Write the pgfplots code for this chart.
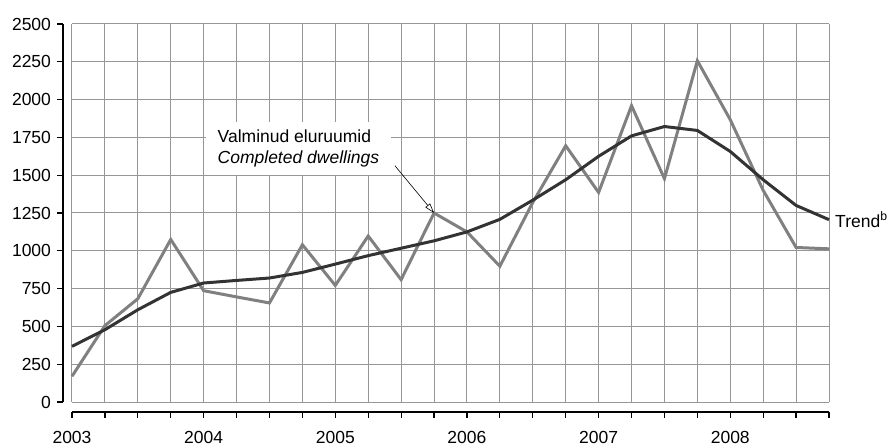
\documentclass[border=0pt]{standalone}
\usepackage{fontspec}
\setmainfont{Liberation Sans}
\usepackage{pgfplots}
\pgfplotsset{compat=1.18}
\usetikzlibrary{arrows.meta}
\definecolor{gridc}{RGB}{150,150,150}
\definecolor{actc}{RGB}{128,128,128}
\definecolor{trendc}{RGB}{51,51,51}
\begin{document}
\fontsize{17.5bp}{21bp}\selectfont
\begin{tikzpicture}[font=\fontsize{17.5bp}{21bp}\selectfont]
\begin{axis}[
 at={(0,0)}, anchor=south west,
 scale only axis, width=757bp, height=378bp,
 xmin=0, xmax=23, ymin=0, ymax=2500,
 axis x line*=bottom, axis y line*=left,
 axis x line shift=10bp, axis y line shift=9bp,
 axis line style={-, line width=2bp, black},
 xtick={0,...,23},
 xticklabels={2003,,,,2004,,,,2005,,,,2006,,,,2007,,,,2008,,,},
 ytick={0,250,...,2500},
 tick align=outside, major tick length=6bp,
 tick style={black, line width=1.2bp},
 grid=major, major grid style={gridc, line width=1bp},
 /pgf/number format/assume math mode=true,
 /pgf/number format/1000 sep={},
 xticklabel style={yshift=-7bp},
 clip=false,
]
\addplot[actc, line width=3bp] coordinates {
(0,170) (1,505) (2,683) (3,1075) (4,736) (5,695) (6,655) (7,1040)
(8,771) (9,1098) (10,809) (11,1250) (12,1125) (13,898) (14,1320) (15,1695)
(16,1386) (17,1960) (18,1477) (19,2257) (20,1867) (21,1400) (22,1022) (23,1013)};
\addplot[trendc, line width=3bp] coordinates {
(0,368) (1,478) (2,610) (3,725) (4,787) (5,804) (6,820) (7,857)
(8,912) (9,968) (10,1017) (11,1066) (12,1125) (13,1208) (14,1335) (15,1470)
(16,1625) (17,1760) (18,1822) (19,1796) (20,1657) (21,1470) (22,1300) (23,1206)};
\node[fill=white, align=left, inner xsep=12bp, inner ysep=8bp] at (axis cs:6.88,1675)
  {Valminud eluruumid\\\textit{Completed dwellings}};
\draw[-{Triangle[open,length=10bp,width=6bp]}, line width=0.6bp] (axis cs:9.81,1563) -- (axis cs:11,1250);
\node[anchor=west, inner sep=0pt, xshift=6bp] at (axis cs:23,1206) {Trend\textsuperscript{b}};
\end{axis}
\pgfresetboundingbox
\path[use as bounding box] (-72bp,-45bp) rectangle (816bp,402bp);
\end{tikzpicture}
\end{document}
